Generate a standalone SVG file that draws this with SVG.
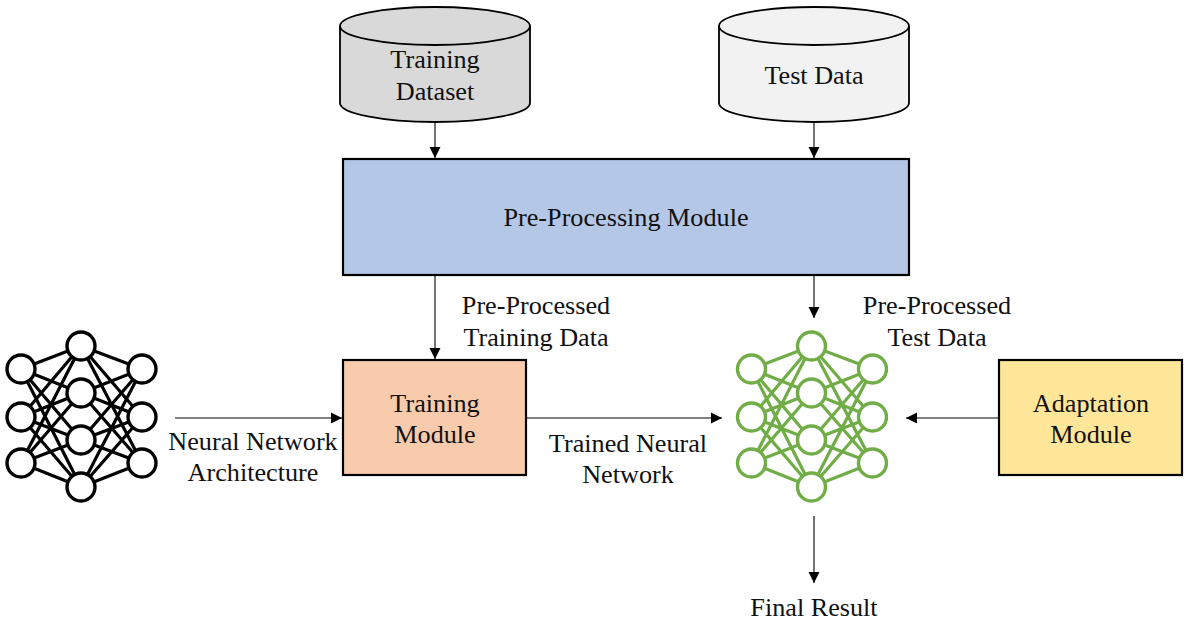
<svg xmlns="http://www.w3.org/2000/svg" width="1201" height="635" viewBox="0 0 1201 635">
<style>
text{font-family:"Liberation Serif","Times New Roman",serif;font-size:26.2px;fill:#111;text-anchor:middle}
.box{stroke:#000;stroke-width:2.2}
.cyl{stroke:#000;stroke-width:1.8}
.conn{stroke:#000;stroke-width:1.1;fill:none;marker-end:url(#arr)}
.edges{fill:none;stroke-width:3.2}
.nodes{fill:#fff;stroke-width:3.4}
</style>
<defs>
<marker id="arr" markerUnits="userSpaceOnUse" markerWidth="12" markerHeight="12" refX="11" refY="6" orient="auto"><path d="M0 0.5L11 6L0 11.5Z" fill="#000"/></marker>
<g id="net">
<path class="edges" d="M21 369L81 346M21 369L81 393M21 369L81 440M21 369L81 487M21 417L81 346M21 417L81 393M21 417L81 440M21 417L81 487M21 463L81 346M21 463L81 393M21 463L81 440M21 463L81 487M142 369L81 346M142 369L81 393M142 369L81 440M142 369L81 487M142 417L81 346M142 417L81 393M142 417L81 440M142 417L81 487M142 463L81 346M142 463L81 393M142 463L81 440M142 463L81 487"/>
<g class="nodes">
<circle cx="21" cy="369" r="14"/><circle cx="21" cy="417" r="14"/><circle cx="21" cy="463" r="14"/>
<circle cx="81" cy="346" r="14"/><circle cx="81" cy="393" r="14"/><circle cx="81" cy="440" r="14"/><circle cx="81" cy="487" r="14"/>
<circle cx="142" cy="369" r="14"/><circle cx="142" cy="417" r="14"/><circle cx="142" cy="463" r="14"/>
</g>
</g>
</defs>
<rect width="1201" height="635" fill="#fff"/>
<g id="connectors">
<path class="conn" d="M435 122V158"/>
<path class="conn" d="M814 122V158"/>
<path class="conn" d="M435 275V359"/>
<path class="conn" d="M814 275V318"/>
<path class="conn" d="M175 418H342"/>
<path class="conn" d="M527 418H722"/>
<path class="conn" d="M999 418H906"/>
<path class="conn" d="M814 516V583"/>
</g>
<g id="training-dataset">
<path class="cyl" fill="#d9d9d9" d="M340 26V103A95 19 0 0 0 530 103V26A95 19 0 0 0 340 26Z"/>
<path class="cyl" fill="none" d="M340 26A95 19 0 0 0 530 26"/>
<text x="435" y="68">Training</text><text x="435" y="100">Dataset</text>
</g>
<g id="test-data">
<path class="cyl" fill="#f2f2f2" d="M719 26V103A95 19 0 0 0 909 103V26A95 19 0 0 0 719 26Z"/>
<path class="cyl" fill="none" d="M719 26A95 19 0 0 0 909 26"/>
<text x="814" y="84">Test Data</text>
</g>
<g id="pre-processing">
<rect class="box" x="343" y="159" width="566" height="116" fill="#b4c7e7"/>
<text x="626" y="226">Pre-Processing Module</text>
</g>
<g id="training-module">
<rect class="box" x="343" y="360" width="183" height="115" fill="#f8cbad"/>
<text x="435" y="412">Training</text><text x="435" y="443">Module</text>
</g>
<g id="adaptation-module">
<rect class="box" x="999" y="360" width="183" height="115" fill="#ffe699"/>
<text x="1091" y="412">Adaptation</text><text x="1091" y="443">Module</text>
</g>
<g id="architecture-network" stroke="#000"><use href="#net"/></g>
<g id="trained-network" stroke="#70ad47" transform="translate(730.5 0)"><use href="#net"/></g>
<g id="labels">
<text x="536" y="314">Pre-Processed</text><text x="536" y="346">Training Data</text>
<text x="937" y="314">Pre-Processed</text><text x="937" y="346">Test Data</text>
<text x="253" y="450">Neural Network</text><text x="253" y="481">Architecture</text>
<text x="628" y="452">Trained Neural</text><text x="628" y="483">Network</text>
<text x="814" y="616">Final Result</text>
</g>
</svg>
